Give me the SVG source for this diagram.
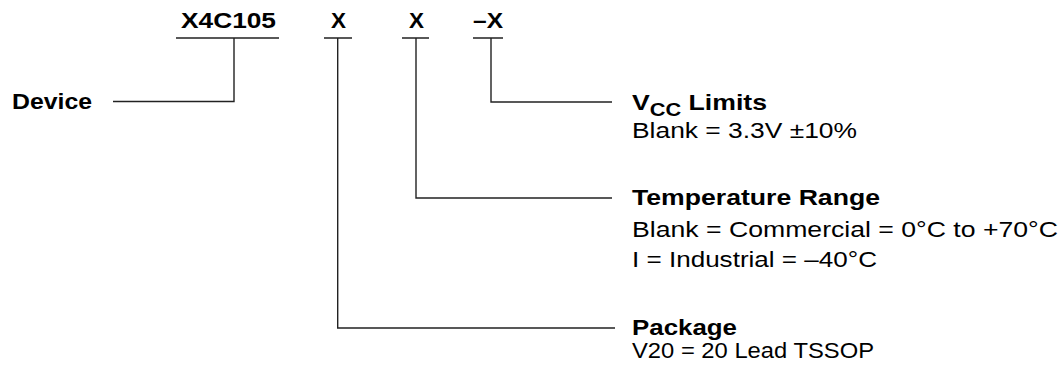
<svg xmlns="http://www.w3.org/2000/svg" width="1062" height="373" viewBox="0 0 1062 373">
<style>
text{font-family:"Liberation Sans",Arial,sans-serif;fill:#000;font-size:22px}
.b{font-weight:bold}
.ln{fill:none;stroke:#222;stroke-width:1.4}
</style>
<rect width="1062" height="373" fill="#fff"/>
<g id="part-number">
<text class="b" x="181" y="28" textLength="95" lengthAdjust="spacingAndGlyphs">X4C105</text>
<text class="b" x="331" y="28" textLength="15" lengthAdjust="spacingAndGlyphs">X</text>
<text class="b" x="409" y="28" textLength="15" lengthAdjust="spacingAndGlyphs">X</text>
<text class="b" x="473" y="28" textLength="30" lengthAdjust="spacingAndGlyphs">–X</text>
</g>
<g id="device"><text class="b" x="12" y="109" textLength="80" lengthAdjust="spacingAndGlyphs">Device</text></g>
<g id="vcc">
<text class="b" x="632" y="110" textLength="135" lengthAdjust="spacingAndGlyphs">V<tspan font-size="18" dy="6">CC</tspan><tspan dy="-6"> Limits</tspan></text>
<text x="632" y="138" textLength="225" lengthAdjust="spacingAndGlyphs">Blank = 3.3V ±10%</text>
</g>
<g id="temp">
<text class="b" x="632" y="205" textLength="248" lengthAdjust="spacingAndGlyphs">Temperature Range</text>
<text x="632" y="237" textLength="426" lengthAdjust="spacingAndGlyphs">Blank = Commercial = 0°C to +70°C</text>
<text x="632" y="267" textLength="245" lengthAdjust="spacingAndGlyphs">I = Industrial = –40°C</text>
</g>
<g id="package">
<text class="b" x="632" y="335" textLength="105" lengthAdjust="spacingAndGlyphs">Package</text>
<text x="632" y="358" textLength="242" lengthAdjust="spacingAndGlyphs">V20 = 20 Lead TSSOP</text>
</g>
<g id="connectors" class="ln">
<path class="ln" d="M176 38H279M324 38H352M402 38H429M473 38H503"/>
<path class="ln" d="M113 101.5H234V38"/>
<path class="ln" d="M337.7 38V328H615"/>
<path class="ln" d="M416 38V198H612"/>
<path class="ln" d="M491 38V102H612"/>
</g>
</svg>
